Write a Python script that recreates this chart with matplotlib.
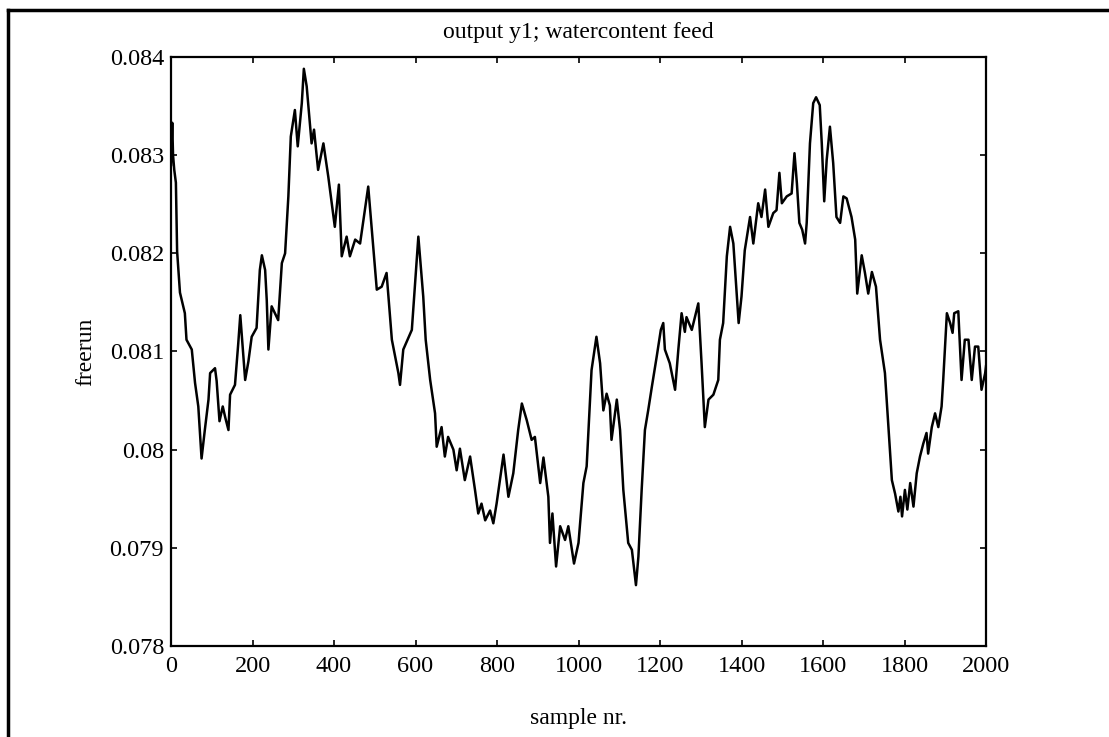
import matplotlib
matplotlib.use("Agg")
import matplotlib.pyplot as plt
from matplotlib.lines import Line2D

# Values (sample index, freerun value in units of 1e-3)
samples = [0, 3, 5, 8, 12, 15, 22, 34, 38, 51, 59, 67, 75, 83, 92, 96, 108, 112,
           119, 127, 133, 141, 145, 157, 165, 170, 182, 190, 198, 210, 218, 223,
           231, 235, 239, 247, 263, 272, 280, 288, 294, 304, 311, 321, 326, 333,
           345, 351, 361, 374, 386, 402, 412, 419, 431, 439, 452, 464, 484, 497,
           505, 517, 529, 542, 558, 562, 570, 591, 607, 619, 625, 636, 648, 652,
           664, 672, 680, 693, 701, 709, 721, 734, 746, 754, 762, 771, 783, 791,
           799, 816, 828, 840, 852, 861, 873, 885, 893, 906, 914, 926, 930, 936,
           945, 955, 967, 975, 989, 1000, 1012, 1020, 1032, 1044, 1053, 1061,
           1069, 1077, 1081, 1094, 1102, 1110, 1122, 1131, 1141, 1147, 1155,
           1163, 1171, 1180, 1192, 1202, 1208, 1212, 1224, 1237, 1245, 1253,
           1261, 1265, 1278, 1294, 1302, 1310, 1319, 1331, 1343, 1347, 1355,
           1364, 1372, 1380, 1387, 1393, 1400, 1408, 1421, 1429, 1441, 1449,
           1458, 1466, 1478, 1486, 1493, 1499, 1511, 1523, 1530, 1536, 1542,
           1549, 1556, 1560, 1568, 1576, 1583, 1592, 1597, 1603, 1609, 1617,
           1625, 1633, 1642, 1650, 1658, 1670, 1679, 1684, 1695, 1703, 1711,
           1720, 1730, 1740, 1752, 1760, 1769, 1777, 1785, 1790, 1794, 1801,
           1807, 1814, 1822, 1830, 1838, 1846, 1854, 1858, 1867, 1875, 1883,
           1891, 1895, 1904, 1912, 1918, 1922, 1932, 1940, 1948, 1957, 1965,
           1973, 1981, 1989, 1998, 2000]
freerun_milli = [82.90, 83.33, 83.00, 82.85, 82.72, 82.02, 81.60, 81.39, 81.12,
                 81.02, 80.68, 80.44, 79.91, 80.20, 80.51, 80.78, 80.83, 80.70,
                 80.29, 80.44, 80.33, 80.20, 80.56, 80.66, 81.08, 81.37, 80.71,
                 80.90, 81.15, 81.24, 81.83, 81.98, 81.83, 81.52, 81.02, 81.46,
                 81.32, 81.90, 82.00, 82.58, 83.19, 83.46, 83.09, 83.53, 83.88,
                 83.70, 83.12, 83.26, 82.85, 83.12, 82.78, 82.27, 82.70, 81.97,
                 82.17, 81.97, 82.14, 82.10, 82.68, 82.03, 81.63, 81.66, 81.80,
                 81.12, 80.78, 80.66, 81.02, 81.22, 82.17, 81.56, 81.12, 80.71,
                 80.37, 80.03, 80.23, 79.93, 80.13, 80.00, 79.79, 80.01, 79.69,
                 79.93, 79.59, 79.35, 79.45, 79.28, 79.38, 79.25, 79.45, 79.95,
                 79.52, 79.76, 80.20, 80.47, 80.30, 80.10, 80.13, 79.66, 79.92,
                 79.52, 79.05, 79.35, 78.81, 79.22, 79.08, 79.22, 78.84, 79.05,
                 79.66, 79.83, 80.81, 81.15, 80.88, 80.40, 80.57, 80.45, 80.10,
                 80.51, 80.20, 79.59, 79.05, 78.98, 78.62, 78.91, 79.59, 80.20,
                 80.40, 80.64, 80.95, 81.22, 81.29, 81.02, 80.88, 80.61, 81.02,
                 81.39, 81.20, 81.35, 81.22, 81.49, 80.88, 80.23, 80.51, 80.56,
                 80.71, 81.12, 81.29, 81.97, 82.27, 82.10, 81.66, 81.29, 81.56,
                 82.03, 82.37, 82.10, 82.51, 82.37, 82.65, 82.27, 82.41, 82.44,
                 82.82, 82.51, 82.58, 82.61, 83.02, 82.71, 82.31, 82.24, 82.10,
                 82.31, 83.12, 83.53, 83.59, 83.51, 83.12, 82.53, 82.95, 83.29,
                 82.92, 82.37, 82.31, 82.58, 82.56, 82.37, 82.14, 81.59, 81.98,
                 81.80, 81.59, 81.81, 81.66, 81.12, 80.78, 80.27, 79.69, 79.55,
                 79.37, 79.52, 79.32, 79.59, 79.39, 79.66, 79.42, 79.76, 79.93,
                 80.06, 80.17, 79.96, 80.23, 80.37, 80.23, 80.44, 80.71, 81.39,
                 81.29, 81.19, 81.39, 81.41, 80.71, 81.12, 81.12, 80.71, 81.05,
                 81.05, 80.61, 80.78, 80.85]
freerun = [v / 1000.0 for v in freerun_milli]

x_ticks = [0, 200, 400, 600, 800, 1000, 1200, 1400, 1600, 1800, 2000]
y_ticks = [0.078, 0.079, 0.080, 0.081, 0.082, 0.083, 0.084]
y_tick_labels = ["0.078", "0.079", "0.08", "0.081", "0.082", "0.083", "0.084"]

title = "output y1; watercontent feed"
xlabel = "sample nr."
ylabel = "freerun"

plt.rcParams['font.family'] = ['Liberation Serif', 'DejaVu Serif']

W, H = 1109, 737
fig = plt.figure(figsize=(W / 100, H / 100), dpi=100)
ax = fig.add_axes([171 / W, 1 - 646 / H, (986 - 171) / W, (646 - 57) / H])

ax.plot(samples, freerun, color='black', linewidth=1.8)

ax.set_xlim(0, 2000)
ax.set_ylim(0.078, 0.084)
ax.set_xticks(x_ticks)
ax.set_xticklabels([str(t) for t in x_ticks])
ax.set_yticks(y_ticks)
ax.set_yticklabels(y_tick_labels)

ax.tick_params(direction='in', length=4, width=1.2, top=True, right=True,
               labelsize=17.5, colors='black')
ax.tick_params(axis='y', pad=5)
ax.tick_params(axis='x', pad=7)
for sp in ax.spines.values():
    sp.set_linewidth(1.6)
    sp.set_color('black')

ax.set_title(title, fontsize=17, pad=14)
ax.set_xlabel(xlabel, fontsize=17)
ax.xaxis.set_label_coords(0.5, -0.106)
ax.set_ylabel(ylabel, fontsize=17)
ax.yaxis.set_label_coords(-0.092, 0.5)

# scanned-page frame (left and top edges)
fig.add_artist(Line2D([8 / W, 8 / W], [0, 1 - 10 / H], transform=fig.transFigure,
                      color='black', linewidth=2.5))
fig.add_artist(Line2D([8 / W, 1], [1 - 10 / H, 1 - 10 / H], transform=fig.transFigure,
                      color='black', linewidth=2.5))

fig.savefig("out.png", dpi=100)
